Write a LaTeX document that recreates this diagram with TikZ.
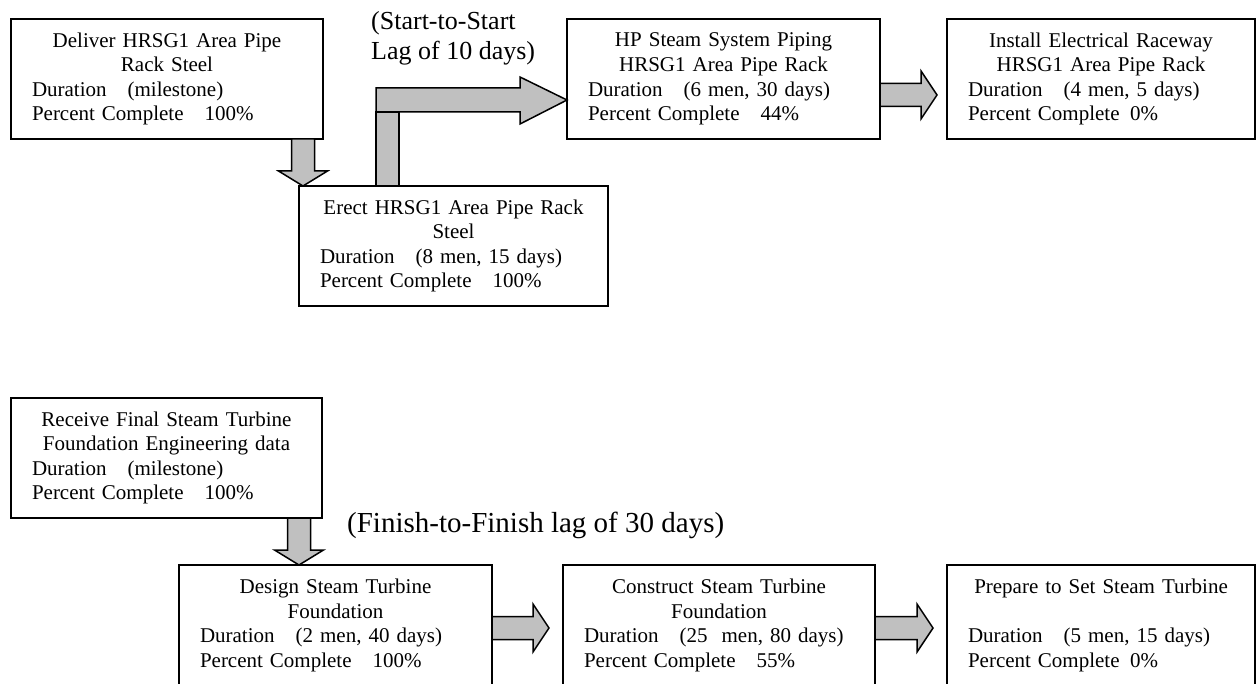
\documentclass[tikz,border=0pt]{standalone}
\usepackage{fontspec}
\setmainfont{Liberation Serif}
\usetikzlibrary{calc}
\definecolor{arrowgray}{RGB}{192,192,192}

\newcommand{\downblock}[2]{%
  \filldraw[blockarrow] ($(#1)+(-11.5,0)$) -- ($(#2)+(-11.5,-15)$) -- ($(#2)+(-24.5,-15)$) -- (#2)
    -- ($(#2)+(24.5,-15)$) -- ($(#2)+(11.5,-15)$) -- ($(#1)+(11.5,0)$) -- cycle;}
\newcommand{\rightblock}[2]{%
  \filldraw[blockarrow] ($(#1)+(0,-11.5)$) -- ($(#2)+(-16,-11.5)$) -- ($(#2)+(-16,-24)$) -- (#2)
    -- ($(#2)+(-16,24)$) -- ($(#2)+(-16,11.5)$) -- ($(#1)+(0,11.5)$) -- cycle;}

\begin{document}
\begin{tikzpicture}[x=1pt, y=-1pt,
    task/.style={draw, line width=2pt, anchor=north west, outer sep=0pt, minimum height=120pt,
      inner xsep=21pt, inner ysep=0pt, align=left, font=\fontsize{21pt}{24.6pt}\selectfont},
    blockarrow/.style={fill=arrowgray, draw=black, line width=1.5pt},
    lag/.style={anchor=base west, inner sep=0pt, align=left}]
            \useasboundingbox (0,0) rectangle (1257,684);
            \clip (0,0) rectangle (1257,684);

            \node[task, text width=270pt] (A) at (11,19) {{\centering Deliver HRSG1 Area Pipe\\Rack Steel\par}Duration\quad(milestone)\\Percent Complete\quad100\%};
            \node[task, text width=267pt] (B) at (299,186) {{\centering Erect HRSG1 Area Pipe Rack\\Steel\par}Duration\quad(8 men, 15 days)\\Percent Complete\quad100\%};
            \node[task, text width=271pt] (C) at (567,19) {{\centering HP Steam System Piping\\HRSG1 Area Pipe Rack\par}Duration\quad(6 men, 30 days)\\Percent Complete\quad44\%};
            \node[task, text width=266pt] (D) at (947,19) {{\centering Install Electrical Raceway\\HRSG1 Area Pipe Rack\par}Duration\quad(4 men, 5 days)\\Percent Complete\enspace0\%};

            \node[task, text width=269pt] (R) at (11,398) {{\centering Receive Final Steam Turbine\\Foundation Engineering data\par}Duration\quad(milestone)\\Percent Complete\quad100\%};
            \node[task, text width=271pt, minimum height=121pt] (Ds) at (179,565) {{\centering Design Steam Turbine\\Foundation\par}Duration\quad(2 men, 40 days)\\Percent Complete\quad100\%};
            \node[task, text width=270pt, minimum height=121pt] (Cs) at (563,565) {{\centering Construct Steam Turbine\\Foundation\par}Duration\quad(25\ \ men, 80 days)\\Percent Complete\quad55\%};
            \node[task, text width=266pt, minimum height=121pt] (Pr) at (947,565) {{\centering Prepare to Set Steam Turbine\\\mbox{}\par}Duration\quad(5 men, 15 days)\\Percent Complete\enspace0\%};

            \node[lag, font=\fontsize{26pt}{30pt}\selectfont] (ss) at (371,60) {(Start-to-Start\\Lag of 10 days)};
            \node[lag, font=\fontsize{29pt}{33pt}\selectfont] (ff) at (347,532) {(Finish-to-Finish lag of 30 days)};

            \coordinate (ab) at ($(A.south east)+(-20,0)$);
            \coordinate (abtip) at (ab |- B.north);
            \downblock{ab}{abtip}

            \coordinate (ss1) at ($(B.north west)+(77,0)$);
            \coordinate (ss2) at ($(C.north west)+(0,81)$);
            \filldraw[blockarrow] (ss1) rectangle ($(ss1)+(23,-74)$);
            \filldraw[blockarrow] ($(ss1)+(0,-74)$) -- ($(ss1)+(0,-98)$) -- ($(ss2)+(-47,-12)$) -- ($(ss2)+(-47,-23)$)
              -- (ss2) -- ($(ss2)+(-47,24)$) -- ($(ss2)+(-47,12)$) -- cycle;

            \coordinate (cd1) at ($(C.north east)+(0,76)$);
            \coordinate (cd2) at ($(D.north west)+(-10,76)$);
            \rightblock{cd1}{cd2}

            \coordinate (rd) at ($(R.south east)+(-23,0)$);
            \coordinate (rdtip) at (rd |- Ds.north);
            \downblock{rd}{rdtip}

            \coordinate (dc1) at ($(Ds.north east)+(0,63)$);
            \coordinate (dc2) at ($(Cs.north west)+(-14,63)$);
            \rightblock{dc1}{dc2}

            \coordinate (cp1) at ($(Cs.north east)+(0,63)$);
            \coordinate (cp2) at ($(Pr.north west)+(-14,63)$);
            \rightblock{cp1}{cp2}
\end{tikzpicture}
\end{document}
